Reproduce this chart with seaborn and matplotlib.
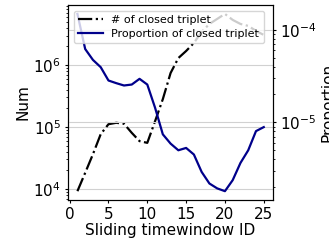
import numpy as np
import pandas as pd
import seaborn as sns
import matplotlib
matplotlib.use("Agg")
import matplotlib.pyplot as plt

# values
window_id = list(range(1, 26))
num_closed = [9200, 18200, 36400, 76700, 111000, 117000, 113000, 80500, 59200, 55500,
              124000, 282000, 745000, 1300000, 1690000, 2280000, 3440000, 4620000,
              5570000, 6710000, 5370000, 4620000, 4300000, 3570000, 3070000]
prop_closed = [1.48e-4, 6.19e-5, 4.72e-5, 3.94e-5, 2.83e-5, 2.65e-5, 2.50e-5, 2.56e-5,
               2.95e-5, 2.56e-5, 1.44e-5, 7.43e-6, 5.90e-6, 5.00e-6, 5.30e-6, 4.50e-6,
               2.92e-6, 2.19e-6, 1.94e-6, 1.81e-6, 2.38e-6, 3.65e-6, 5.00e-6, 8.05e-6,
               8.89e-6]

df = pd.DataFrame({"window": window_id, "num": num_closed, "prop": prop_closed})

fs = 11
fig, ax = plt.subplots(figsize=(3.29, 2.41), dpi=100)
fig.subplots_adjust(left=0.207, right=0.830, top=0.979, bottom=0.170)

sns.lineplot(data=df, x="window", y="num", ax=ax, color="k", linestyle="-.",
             linewidth=1.6, label="# of closed triplet", legend=False)
ax.set_yscale("log")
ax.set_xlabel("Sliding timewindow ID", fontsize=fs, labelpad=1)
ax.set_ylabel("Num", fontsize=fs, labelpad=2)
ax.set_xticks([0, 5, 10, 15, 20, 25])
ax.tick_params(labelsize=fs, length=2.5, pad=2.5)
ax.tick_params(which="minor", length=1.5)
ax.grid(axis="y", which="major", color="0.82", linewidth=0.8)

ax2 = ax.twinx()
sns.lineplot(data=df, x="window", y="prop", ax=ax2, color="darkblue",
             linewidth=1.6, label="Proportion of closed triplet", legend=False)
ax2.set_yscale("log")
ax2.set_ylabel("Proportion", fontsize=fs, labelpad=3)
ax2.tick_params(labelsize=fs, length=2.5, pad=2.5)
ax2.tick_params(which="minor", length=1.5)
ax2.grid(axis="y", which="major", color="0.82", linewidth=0.8)

h1, l1 = ax.get_legend_handles_labels()
h2, l2 = ax2.get_legend_handles_labels()
ax2.legend(h1 + h2, l1 + l2, loc="upper left", fontsize=8, handlelength=2.2,
           labelspacing=0.35)

fig.savefig("out.png", dpi=100)
